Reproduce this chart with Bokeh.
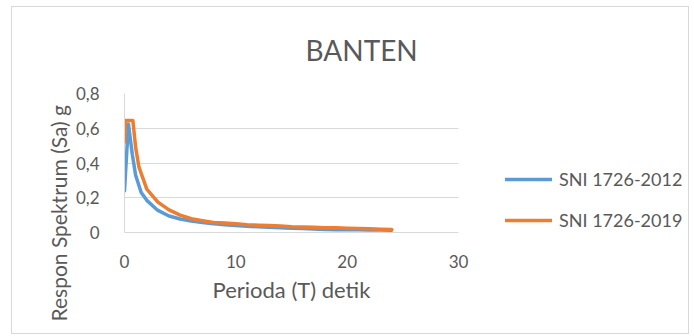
from bokeh.plotting import figure
from bokeh.models import Range1d, Legend, LegendItem, FixedTicker, CustomJSTickFormatter, Title
from bokeh.embed import file_html
from bokeh.resources import INLINE

# ---- data ----
t_2012 = [0, 0.35, 0.7, 1.0, 1.5, 2, 3, 4, 5, 6, 7, 8, 9, 10, 11, 12, 13, 14, 15, 16, 17, 18, 19, 20, 21, 22, 23, 24]
sa_2012 = [0.24, 0.625, 0.45, 0.33, 0.23, 0.185, 0.127, 0.095, 0.078, 0.066, 0.057, 0.05, 0.045, 0.04, 0.036,
           0.033, 0.03, 0.028, 0.025, 0.023, 0.02, 0.017, 0.016, 0.016, 0.016, 0.015, 0.014, 0.013]
t_2019 = [0, 0.1, 0.75, 1.0, 1.3, 2, 3, 4, 5, 6, 7, 8, 9, 10, 11, 12, 13, 14, 15, 16, 17, 18, 19, 20, 21, 22, 23, 24]
sa_2019 = [0.52, 0.645, 0.645, 0.49, 0.376, 0.25, 0.175, 0.13, 0.1, 0.079, 0.068, 0.058, 0.054, 0.05, 0.045,
           0.042, 0.04, 0.037, 0.033, 0.031, 0.03, 0.028, 0.027, 0.025, 0.023, 0.021, 0.019, 0.017]
series_names = ["SNI 1726-2012", "SNI 1726-2019"]
x_ticks = [0, 10, 20, 30]
y_ticks = [0, 0.2, 0.4, 0.6, 0.8]
x_max = 30
title_text = "BANTEN"
x_title = "Perioda (T) detik"
y_title = "Respon Spektrum (Sa) g"

BLUE = "#5B9BD5"
ORANGE = "#ED7D31"
TXT = "#595959"
GRID = "#D9D9D9"
FONT = "Lato"

# frame spans from the y axis to the right edge of the chart (legend lives inside it)
PX_PER_UNIT = (458 - 124) / x_max
x_end = (689 - 124) / PX_PER_UNIT

p = figure(width=678, height=328, output_backend="svg", toolbar_location=None,
           x_range=Range1d(0, x_end), y_range=Range1d(0, 0.8),
           min_border_left=112, min_border_right=1, min_border_top=86, min_border_bottom=103)
p.styles = {"border": "1px solid #D9D9D9", "margin-left": "11px", "margin-top": "6px"}
p.outline_line_color = None
p.background_fill_color = "white"
p.border_fill_color = "white"

p.title.text = title_text
p.title.align = "left"
p.title.offset = 181
p.title.text_font = FONT
p.title.text_font_size = "28px"
p.title.text_font_style = "normal"
p.title.text_color = TXT
p.title.vertical_align = "top"
p.title.standoff = 50

p.xgrid.visible = False
p.ygrid.grid_line_color = GRID
p.ygrid.grid_line_width = 1
try:
    p.ygrid.cross_bounds = (0, x_max)
    use_segments = False
except Exception:
    use_segments = True
if use_segments:
    p.ygrid.visible = False
    p.segment(x0=[0] * len(y_ticks), y0=y_ticks, x1=[x_max] * len(y_ticks), y1=y_ticks,
              line_color=GRID, line_width=1)

p.xaxis.ticker = FixedTicker(ticks=x_ticks)
p.yaxis.ticker = FixedTicker(ticks=y_ticks)
p.xaxis.bounds = (0, x_max)
p.yaxis.formatter = CustomJSTickFormatter(code="return tick === 0 ? '0' : tick.toFixed(1).replace('.', ',');")

for ax in (p.xaxis[0], p.yaxis[0]):
    ax.axis_line_color = GRID
    ax.axis_line_width = 1
    ax.major_tick_line_color = None
    ax.minor_tick_line_color = None
    ax.major_label_text_color = TXT
    ax.major_label_text_font = FONT
    ax.major_label_text_font_size = "17px"

p.xaxis.major_label_standoff = 16
p.yaxis.major_label_standoff = 19

xt = Title(text=x_title, align="left", offset=88, text_font=FONT, text_font_size="22px",
           text_font_style="normal", text_color=TXT, standoff=6)
p.add_layout(xt, "below")
yt = Title(text=y_title, align="left", offset=-89, text_font=FONT, text_font_size="21px",
           text_font_style="normal", text_color=TXT, standoff=4)
p.add_layout(yt, "left")

r1 = p.line(t_2012, sa_2012, line_color=BLUE, line_width=3.5, line_join="round", line_cap="round")
r2 = p.line(t_2019, sa_2019, line_color=ORANGE, line_width=3.5, line_join="round", line_cap="round")

legend = Legend(items=[LegendItem(label=series_names[0], renderers=[r1]),
                       LegendItem(label=series_names[1], renderers=[r2])],
                location=(381, 1))
legend.label_text_font = FONT
legend.label_text_font_size = "18px"
legend.label_text_color = TXT
legend.glyph_width = 47
legend.glyph_height = 20
legend.label_height = 20
legend.label_standoff = 7
legend.spacing = 19
legend.padding = 0
legend.margin = 0
legend.border_line_color = None
legend.background_fill_alpha = 0
p.add_layout(legend)

open("out.html", "w").write(file_html(p, INLINE))
